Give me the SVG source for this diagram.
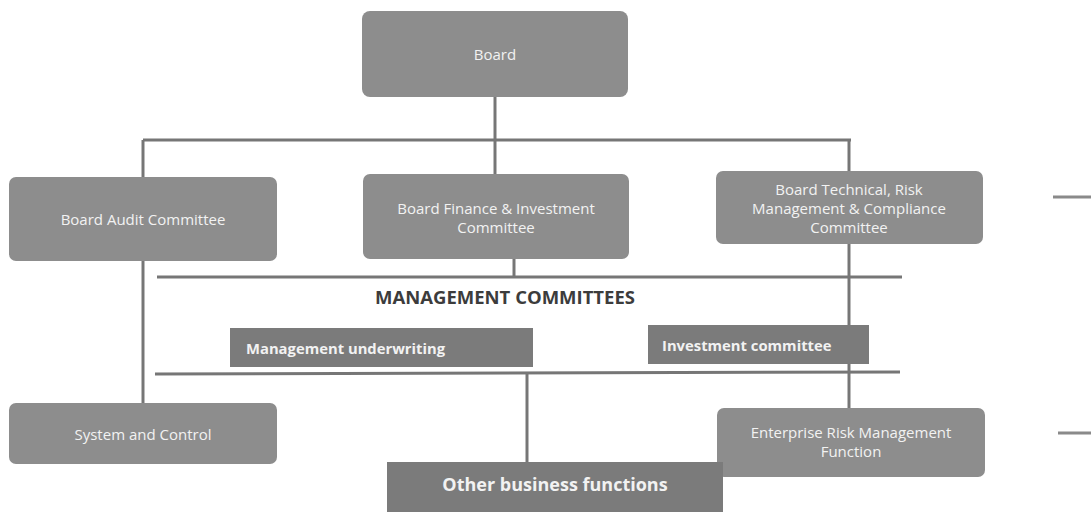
<svg xmlns="http://www.w3.org/2000/svg" width="1091" height="512" viewBox="0 0 1091 512">
  <style>
    .box { fill: #8d8d8d; }
    .mgmt { fill: #7b7b7b; }
    .lbl { font-family: "Open Sans", "Liberation Sans", sans-serif; font-size: 15px; fill: #f2f2f2; text-anchor: middle; }
    .lblb { font-family: "Open Sans", "Liberation Sans", sans-serif; font-size: 14.8px; font-weight: bold; fill: #f2f2f2; }
    .head { font-family: "Open Sans", "Liberation Sans", sans-serif; font-size: 18.5px; font-weight: bold; fill: #3c3c3c; text-anchor: middle; }
    .conn line { stroke: #767676; stroke-width: 3; }
    .edge line { stroke: #8a8a8a; stroke-width: 3; }
  </style>

  <rect width="1091" height="512" fill="#ffffff"/>

  <!-- connectors -->
  <g id="connectors" class="conn">
    <line x1="495" y1="97" x2="495" y2="174"/>
    <line x1="143" y1="140" x2="851" y2="140"/>
    <line x1="143" y1="140" x2="143" y2="177"/>
    <line x1="849" y1="140" x2="849" y2="171"/>
    <line x1="143" y1="261" x2="143" y2="403"/>
    <line x1="514" y1="259" x2="514" y2="277"/>
    <line x1="157" y1="277" x2="902" y2="277"/>
    <line x1="849" y1="244" x2="849" y2="408"/>
    <line x1="155" y1="374" x2="900" y2="372"/>
    <line x1="527" y1="374" x2="527" y2="462"/>
  </g>

  <!-- marks at the right page edge -->
  <g id="edge-marks" class="edge">
    <line x1="1053" y1="197" x2="1091" y2="197"/>
    <line x1="1058" y1="433" x2="1091" y2="433"/>
  </g>

  <g id="board">
    <rect class="box" x="362" y="11" width="266" height="86" rx="8"/>
    <text class="lbl" x="495" y="60">Board</text>
  </g>

  <g id="board-audit">
    <rect class="box" x="9" y="177" width="268" height="84" rx="7"/>
    <text class="lbl" x="143" y="225">Board Audit Committee</text>
  </g>

  <g id="board-finance">
    <rect class="box" x="363" y="174" width="266" height="85" rx="7"/>
    <text class="lbl" x="496" y="214">Board Finance &amp; Investment</text>
    <text class="lbl" x="496" y="233">Committee</text>
  </g>

  <g id="board-technical">
    <rect class="box" x="716" y="171" width="267" height="73" rx="7"/>
    <text class="lbl" x="849" y="195">Board Technical, Risk</text>
    <text class="lbl" x="849" y="214">Management &amp; Compliance</text>
    <text class="lbl" x="849" y="233">Committee</text>
  </g>

  <text id="management-committees" class="head" x="505" y="304">MANAGEMENT COMMITTEES</text>

  <g id="management-underwriting">
    <rect class="mgmt" x="230" y="328" width="303" height="39"/>
    <text class="lblb" x="246" y="354">Management underwriting</text>
  </g>

  <g id="investment-committee">
    <rect class="mgmt" x="648" y="325" width="221" height="39"/>
    <text class="lblb" x="662" y="351">Investment committee</text>
  </g>

  <g id="system-control">
    <rect class="box" x="9" y="403" width="268" height="61" rx="7"/>
    <text class="lbl" x="143" y="440">System and Control</text>
  </g>

  <g id="erm">
    <rect class="box" x="717" y="408" width="268" height="69" rx="7"/>
    <text class="lbl" x="851" y="438">Enterprise Risk Management</text>
    <text class="lbl" x="851" y="457">Function</text>
  </g>

  <g id="other-business">
    <rect class="mgmt" x="387" y="462" width="336" height="56"/>
    <text class="lblb" x="555" y="491" text-anchor="middle" style="font-size:18px">Other business functions</text>
  </g>
</svg>
